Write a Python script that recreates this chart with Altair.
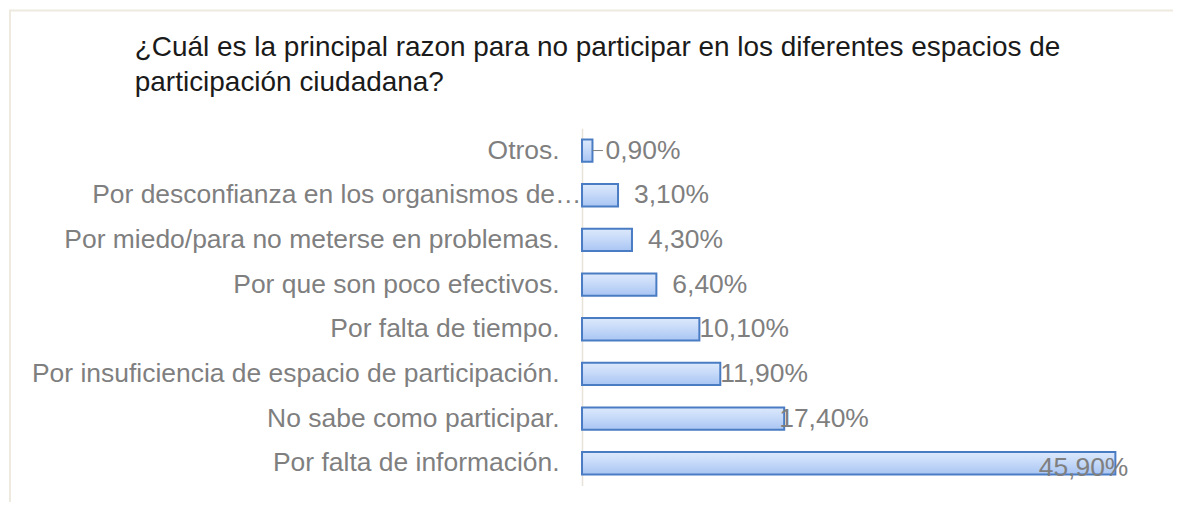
import altair as alt
import pandas as pd

categories = [
    "Otros.",
    "Por desconfianza en los organismos de…",
    "Por miedo/para no meterse en problemas.",
    "Por que son poco efectivos.",
    "Por falta de tiempo.",
    "Por insuficiencia de espacio de participación.",
    "No sabe como participar.",
    "Por falta de información.",
]
values = [0.9, 3.1, 4.3, 6.4, 10.1, 11.9, 17.4, 45.9]
value_labels = ["0,90%", "3,10%", "4,30%", "6,40%", "10,10%", "11,90%", "17,40%", "45,90%"]

title_lines = [
    "¿Cuál es la principal razon para no participar en los diferentes espacios de",
    "participación ciudadana?",
]

df = pd.DataFrame({"cat": categories, "val": values, "lab": value_labels})

FONT = "Liberation Sans"
GRAY = "#7f7f7f"
FS = 26.5
TFS = 28

y_enc = alt.Y(
    "cat:N",
    sort=categories,
    scale=alt.Scale(paddingInner=0.5, paddingOuter=0.25),
    axis=alt.Axis(
        title=None,
        ticks=False,
        labelFont=FONT,
        labelFontSize=FS,
        labelColor=GRAY,
        labelPadding=alt.ExprRef(expr="test(/desconfianza/, datum.value) ? 1 : 23"),
        labelLimit=700,
        domainColor="#e8e3d8",
        domainWidth=1.5,
    ),
)
x_scale = alt.Scale(domain=[0, 50])
x_enc = alt.X("val:Q", scale=x_scale, axis=None)

base = alt.Chart(df)

one = pd.DataFrame({"a": [0]})

frame = alt.Chart(one).mark_rect(
    fill=None, stroke="#eeeae0", strokeWidth=2, clip=False
).encode(
    x=alt.value(-573), x2=alt.value(800), y=alt.value(-118), y2=alt.value(420)
)

title1 = alt.Chart(one).mark_text(
    align="left", baseline="alphabetic", font=FONT, fontSize=TFS, color="#1a1a1a"
).encode(x=alt.value(-448), y=alt.value(-72), text=alt.value(title_lines[0]))
title2 = alt.Chart(one).mark_text(
    align="left", baseline="alphabetic", font=FONT, fontSize=TFS, color="#1a1a1a"
).encode(x=alt.value(-448), y=alt.value(-37), text=alt.value(title_lines[1]))

bars = base.mark_bar(
    color=alt.Gradient(
        gradient="linear",
        x1=0, x2=0, y1=0, y2=1,
        stops=[
            alt.GradientStop(color="#dde9fc", offset=0),
            alt.GradientStop(color="#c4d8f8", offset=0.5),
            alt.GradientStop(color="#a8c5f3", offset=1),
        ],
    ),
    stroke="#4a7cc4",
    strokeWidth=2,
).encode(x=x_enc, y=y_enc)


def label_group(expr, dx, dy=0, align="left"):
    return base.transform_filter(expr).mark_text(
        align=align, baseline="middle", dx=dx, dy=dy, font=FONT, fontSize=FS, color=GRAY
    ).encode(x=x_enc, y=y_enc, text="lab:N")


labels = [
    label_group("datum.val < 1", 13),
    label_group("datum.val >= 1 && datum.val < 8", 16),
    label_group("datum.val >= 8 && datum.val < 15", 0),
    label_group("datum.val >= 15 && datum.val < 30", -5),
    label_group("datum.val >= 30", 13, 5, "right"),
]

leader = base.transform_filter("datum.val < 1").transform_calculate(
    v2="datum.val + 0.9"
).mark_rule(color=GRAY, strokeWidth=1).encode(
    x=x_enc, x2="v2:Q", y=y_enc
)

chart = alt.layer(frame, title1, title2, bars, leader, *labels).properties(
    width=582,
    height=358,
    autosize=alt.AutoSizeParams(type="none"),
    padding={"left": 575, "top": 120, "right": 10, "bottom": 16},
    background="white",
).configure_view(stroke=None, strokeWidth=0)

chart.save("out.html", embed_options={"renderer": "svg", "actions": False})
